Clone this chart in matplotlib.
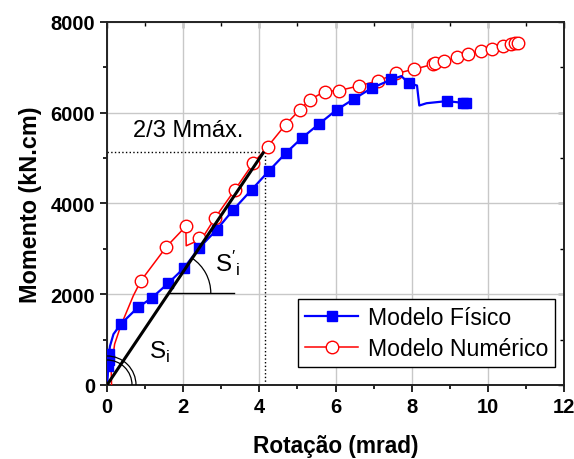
import numpy as np
import matplotlib
matplotlib.use("Agg")
import matplotlib.pyplot as plt
from matplotlib.patches import Arc

plt.rcParams['font.family'] = ['Liberation Sans', 'DejaVu Sans']
plt.rcParams['mathtext.fontset'] = 'custom'
plt.rcParams['mathtext.rm'] = 'Liberation Sans'

# Modelo Fisico (experimental)
fis_x = [0, 0.02, 0.03, 0.04, 0.05, 0.08, 0.17, 0.36, 0.81, 1.17, 1.61, 2.02, 2.41, 2.88,
         3.31, 3.80, 4.25, 4.70, 5.11, 5.57, 6.03, 6.49, 6.95, 7.47, 7.73, 7.92, 8.14,
         8.20, 8.39, 8.92, 9.34, 9.42]
fis_y = [0, 200, 420, 560, 680, 860, 1120, 1340, 1709, 1914, 2245, 2576, 3011, 3422,
         3856, 4305, 4717, 5115, 5439, 5755, 6064, 6307, 6543, 6733, 6808, 6653, 6600,
         6159, 6210, 6256, 6219, 6219]
fis_marks = [2, 3, 4, 7, 8, 9, 10, 11, 12, 13, 14, 15, 16, 17, 18, 19, 20, 21, 22, 23,
             25, 29, 30, 31]

# Modelo Numerico
num_x = [0.12, 0.11, 0.20, 0.36, 0.69, 0.89, 1.56, 2.07, 2.08, 2.30, 2.41, 2.55, 2.83,
         3.36, 3.84, 4.22, 4.69, 5.07, 5.33, 5.72, 6.10, 6.62, 7.12, 7.60, 8.07, 8.55,
         8.62, 8.85, 9.18, 9.49, 9.81, 10.11, 10.40, 10.62, 10.72, 10.78]
num_y = [0, 350, 900, 1300, 1965, 2296, 3046, 3497, 3068, 3150, 3232, 3300, 3673,
         4305, 4887, 5254, 5740, 6071, 6291, 6468, 6490, 6594, 6704, 6865, 6962, 7064,
         7102, 7130, 7218, 7293, 7366, 7411, 7470, 7521, 7527, 7527]
num_marks = [5, 6, 7, 10] + list(range(12, 36))

# rigidez secante
m23 = 5130
rot23 = 4.14
sec_x = [0, 4.10]
sec_y = [0, 5115]
si2_y = 2024

fig = plt.figure(figsize=(5.74, 4.6), dpi=100)
ax = fig.add_axes([0.1864, 0.1609, 0.7962, 0.7891])

ax.grid(True, color='#c8c8c8', linewidth=1.0, zorder=0)
ax.plot([0, rot23], [m23, m23], ':', color='black', linewidth=1.0, zorder=2)
ax.plot([rot23, rot23], [0, m23], ':', color='black', linewidth=1.0, zorder=2)

ax.plot(fis_x, fis_y, '-', color='#0000ff', linewidth=1.6, marker='s', markersize=7.5,
        markevery=fis_marks, markerfacecolor='#0000ff', markeredgecolor='#0000ff',
        label='Modelo Físico', zorder=4)
ax.plot(num_x, num_y, '-', color='#ff0000', linewidth=1.1, marker='o', markersize=9,
        markevery=num_marks, markerfacecolor='white', markeredgecolor='#ff0000',
        markeredgewidth=1.0, label='Modelo Numérico', zorder=3)

ax.plot(sec_x, sec_y, '-', color='black', linewidth=2.2, zorder=5)

# angulos
sx = 457 / 12.0   # px per mrad
sy = 363 / 8000.0  # px per kN.cm
for r in (25, 29):
    ax.add_patch(Arc((0, 0), 2 * r / sx, 2 * r / sy, theta1=0, theta2=90,
                     color='black', linewidth=0.9, zorder=5))
x0 = sec_x[1] * si2_y / sec_y[1]
ax.plot([x0, 3.33], [si2_y, si2_y], '-', color='black', linewidth=1.0, zorder=5)
ang = np.degrees(np.arctan2(sec_y[1], sec_x[1]))
ax.add_patch(Arc((x0, si2_y), 2 * 42 / sx, 2 * 42 / sy, theta1=0, theta2=ang,
                 color='black', linewidth=0.9, zorder=5))

ax.text(2.12, 5610, '2/3 Mmáx.', fontsize=17, ha='center', va='center')
ax.text(1.1, 750, r'S$_\mathregular{i}$', fontsize=17.5, ha='left', va='center')
ax.text(2.83, 2690, r"$\mathregular{S'_i}$", fontsize=17.5, ha='left', va='center')

ax.set_xlim(0, 12)
ax.set_ylim(0, 8000)
ax.set_xticks(np.arange(0, 13, 2))
ax.set_yticks(np.arange(0, 8001, 2000))
ax.set_xticks(np.arange(1, 12, 2), minor=True)
ax.set_yticks(np.arange(1000, 8000, 2000), minor=True)
ax.tick_params(which='both', direction='out', width=1.2, labelsize=14.5)
ax.tick_params(which='major', length=5)
ax.tick_params(which='minor', length=3)
for lab in ax.get_xticklabels() + ax.get_yticklabels():
    lab.set_fontweight('bold')
for s in ax.spines.values():
    s.set_linewidth(1.4)
    s.set_color('#222222')

# ticks internos no topo e na direita
top = ax.secondary_xaxis('top')
top.set_xticks(np.arange(0, 13, 2))
top.set_xticks(np.arange(1, 12, 2), minor=True)
top.tick_params(which='both', direction='in', width=1.0, labeltop=False)
top.tick_params(which='major', length=4)
top.tick_params(which='minor', length=3)
top.spines['top'].set_visible(False)
right = ax.secondary_yaxis('right')
right.set_yticks(np.arange(0, 8001, 2000))
right.set_yticks(np.arange(1000, 8000, 2000), minor=True)
right.tick_params(which='both', direction='in', width=1.0, labelright=False)
right.tick_params(which='major', length=4)
right.tick_params(which='minor', length=3)
right.spines['right'].set_visible(False)

ax.set_xlabel('Rotação (mrad)', fontsize=16.3, fontweight='bold', labelpad=13)
ax.set_ylabel('Momento (kN.cm)', fontsize=16.8, fontweight='bold', labelpad=6)

leg = ax.legend(loc='lower right', bbox_to_anchor=(0.98, 0.05), fontsize=16.6,
                frameon=True, fancybox=False, edgecolor='black', framealpha=1,
                handlelength=2.3, borderpad=0.3, labelspacing=0.35, handletextpad=0.4,
                borderaxespad=0)
leg.get_frame().set_linewidth(1.0)

fig.savefig('out.png', dpi=100)
